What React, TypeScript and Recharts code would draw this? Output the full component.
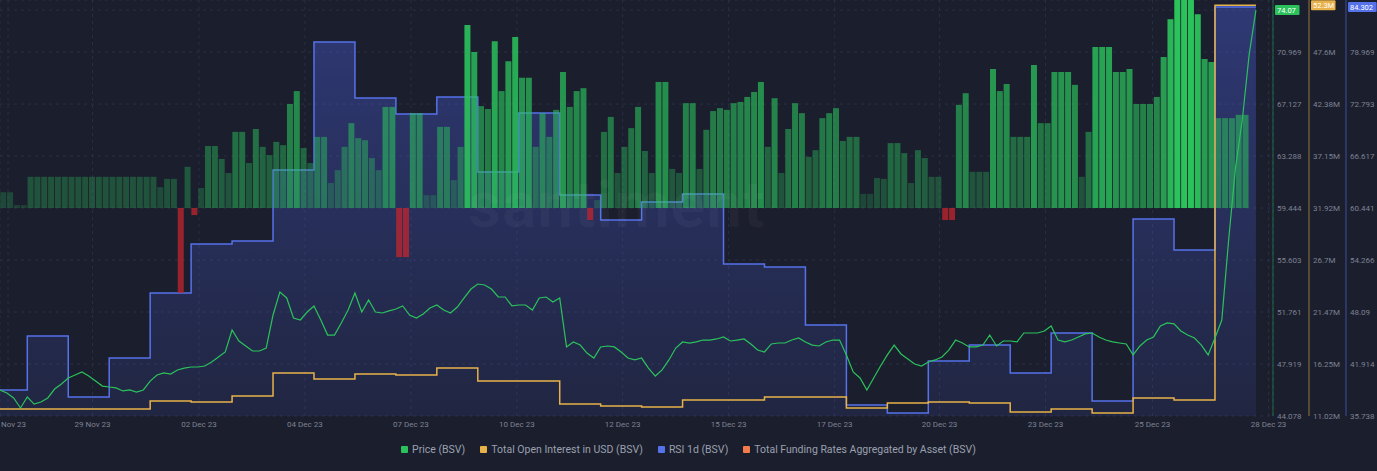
import React from 'react';
import {
  Area,
  Bar,
  CartesianGrid,
  Cell,
  ComposedChart,
  Line,
  XAxis,
  YAxis,
} from 'recharts';

const BG = '#1b1e2d';
const GREEN = '#2bc25c';
const YELLOW = '#e8b24a';
const BLUE = '#5672ea';
const ORANGE = '#f47c4c';
const RED = '#c4262d';
const TEXT = '#7d8292';

// axis ids are sorted by name when stacked on the right side
const PRICE_AXIS = '1-price';
const OI_AXIS = '2-oi';
const RSI_AXIS = '3-rsi';
const FUNDING_AXIS = '4-funding';

// time in hours from 28 Nov 23 00:00, one sample every 4h
const START_HOUR = -16;
const STEP_HOURS = 4;

const priceBsv = [
  46.0, 45.78, 45.41, 44.67, 45.48, 44.96, 45.11, 45.41, 46.07, 46.44,
  46.89, 47.11, 47.33, 47.03, 46.66, 46.29, 46.22, 46.15, 45.93, 46.0,
  45.85, 46.0, 46.66, 47.11, 47.26, 47.18, 47.48, 47.62, 47.7, 47.7,
  47.77, 48.07, 48.44, 48.81, 50.43, 49.62, 49.25, 48.88, 48.88, 49.1,
  51.54, 53.24, 52.8, 51.32, 51.17, 51.76, 52.21, 51.17, 50.06, 50.06,
  50.95, 51.91, 53.17, 51.76, 52.65, 51.76, 51.69, 51.84, 51.98, 52.21,
  51.54, 51.32, 51.61, 52.06, 52.28, 51.91, 51.69, 52.13, 52.8, 53.46,
  53.83, 53.76, 53.46, 52.87, 52.87, 52.21, 52.28, 52.28, 51.91, 52.8,
  52.87, 52.5, 52.8, 49.18, 49.55, 49.32, 48.73, 48.36, 49.18, 49.25,
  49.18, 48.81, 48.36, 48.22, 48.36, 47.62, 47.03, 47.48, 48.22, 49.1,
  49.55, 49.47, 49.55, 49.69, 49.69, 49.77, 49.92, 49.62, 49.69, 49.77,
  49.4, 48.95, 48.81, 49.4, 49.47, 49.47, 49.69, 49.84, 49.55, 49.32,
  49.25, 49.55, 49.69, 49.69, 48.59, 47.33, 46.89, 46.0, 46.89, 47.77,
  48.59, 49.32, 48.66, 48.29, 47.92, 47.77, 48.07, 48.22, 48.44, 48.95,
  49.69, 49.47, 49.18, 49.18, 49.32, 50.06, 49.25, 49.62, 49.62, 49.55,
  50.21, 50.21, 50.21, 50.36, 50.73, 49.69, 49.55, 49.69, 49.92, 50.14,
  50.21, 49.92, 49.69, 49.55, 49.47, 49.4, 48.59, 49.25, 49.69, 49.92,
  50.73, 50.95, 50.88, 50.36, 50.06, 49.84, 49.32, 48.59, 49.84, 51.17,
  57.08, 62.4, 65.95, 70.75, 74.07,
];

// funding rate (%) per 4h period
const fundingRates = [
  0.0038, 0.0038, 0.0007, 0.0007, 0.0075, 0.0075, 0.0075, 0.0075, 0.0075, 0.0075,
  0.0075, 0.0075, 0.0075, 0.0075, 0.0075, 0.0075, 0.0075, 0.0075, 0.0075, 0.0075,
  0.0075, 0.0075, 0.0075, 0.005, 0.007, 0.007, -0.0204, 0.0099, -0.0017, 0.0048,
  0.0149, 0.0149, 0.0118, 0.0084, 0.0183, 0.0183, 0.0108, 0.019, 0.0147, 0.0127,
  0.0159, 0.0151, 0.025, 0.0281, 0.0144, 0.0108, 0.0171, 0.0171, 0.006, 0.0091,
  0.0147, 0.0204, 0.0168, 0.0163, 0.012, 0.0091, 0.0243, 0.0243, -0.0118, -0.0118,
  0.0228, 0.0228, 0.0031, 0.0031, 0.0195, 0.0195, 0.0067, 0.0147, 0.044, 0.0375,
  0.0245, 0.0238, 0.0401, 0.0281, 0.0353, 0.0411, 0.0313, 0.0313, 0.0147, 0.0228,
  0.0171, 0.0236, 0.0327, 0.0243, 0.0281, 0.0288, -0.0029, 0.0019, 0.0183, 0.0219,
  0.0084, 0.0147, 0.0192, 0.0243, 0.0137, 0.0084, 0.0303, 0.0303, 0.0094, 0.0084,
  0.0252, 0.0252, 0.0094, 0.0188, 0.0233, 0.024, 0.0236, 0.0252, 0.0255, 0.0267,
  0.0279, 0.0303, 0.0147, 0.0264, 0.0084, 0.019, 0.0252, 0.0228, 0.0123, 0.0139,
  0.0216, 0.0228, 0.024, 0.0161, 0.0171, 0.0171, 0.0034, 0.0034, 0.0072, 0.007,
  0.0156, 0.0156, 0.0132, 0.006, 0.0139, 0.012, 0.0075, 0.0075, -0.0029, -0.0029,
  0.0248, 0.0276, 0.0087, 0.0087, 0.0087, 0.0334, 0.0281, 0.0298, 0.0171, 0.0171,
  0.0171, 0.0344, 0.0204, 0.0204, 0.0327, 0.0327, 0.0327, 0.0296, 0.0075, 0.0183,
  0.0387, 0.0387, 0.0387, 0.0327, 0.0327, 0.0334, 0.025, 0.025, 0.025, 0.0267,
  0.0363, 0.0454, 0.05, 0.05, 0.05, 0.0466, 0.0358, 0.0351, 0.0216, 0.0216,
  0.0216, 0.0224, 0.0224,
];
const FUNDING_MAX = 0.05;

// daily values, 27 Nov .. 27 Dec
const rsiDaily = [
  38.83, 45.24, 37.99, 42.63, 50.35, 56.17, 56.52, 64.96, 80.16, 73.51,
  71.61, 73.63, 64.72, 71.73, 61.99, 59.02, 61.16, 62.11, 53.79, 53.44,
  46.55, 37.04, 36.09, 42.27, 44.17, 40.85, 45.6, 37.52, 59.14, 55.46,
  84.3,
];
// millions of USD
const openInterestDaily = [
  11.72, 11.72, 11.72, 11.72, 12.53, 12.43, 13.03, 15.34, 14.74, 15.24,
  15.14, 15.84, 14.54, 14.54, 12.23, 12.02, 11.92, 12.63, 12.63, 12.93,
  12.93, 11.82, 12.33, 12.43, 12.33, 11.42, 11.72, 11.32, 12.83, 12.63,
  52.3,
];

const dateTicks = [-11.3, 38.2, 100.6, 162.7, 224.8, 286.9, 348.9, 411, 473.1, 534.6, 596.7, 659.4, 727.4];
const dateLabels = [
  '27 Nov 23', '29 Nov 23', '02 Dec 23', '04 Dec 23', '07 Dec 23', '10 Dec 23', '12 Dec 23',
  '15 Dec 23', '17 Dec 23', '20 Dec 23', '23 Dec 23', '25 Dec 23', '28 Dec 23',
];

const priceTicks = [44.078, 47.919, 51.761, 55.603, 59.444, 63.288, 67.127, 70.969, 74.07];
const oiTicks = [11.02, 16.25, 21.47, 26.7, 31.92, 37.15, 42.38, 47.6, 52.3];
const rsiTicks = [35.738, 41.914, 48.09, 54.266, 60.441, 66.617, 72.793, 78.969, 84.302];

const legendItems = [
  { label: 'Price (BSV)', color: GREEN },
  { label: 'Total Open Interest in USD (BSV)', color: YELLOW },
  { label: 'RSI 1d (BSV)', color: BLUE },
  { label: 'Total Funding Rates Aggregated by Asset (BSV)', color: ORANGE },
];

const rows = priceBsv.map((price, i) => {
  const t = START_HOUR + i * STEP_HOURS;
  const day = Math.min(Math.floor(t / 24) + 1, rsiDaily.length - 1);
  return {
    t,
    price,
    funding: i < fundingRates.length ? fundingRates[i] : null,
    rsi: rsiDaily[day],
    oi: openInterestDaily[day],
  };
});

function makeTick(color: string, last: number, suffix = '') {
  return function AxisTick(props: any) {
    const { x, y, payload } = props;
    const label = `${payload.value}${suffix}`;
    if (payload.value === last) {
      const w = label.length * 4.1 + 4;
      return (
        <g>
          <rect x={x - 2} y={y - 5} width={w} height={10} rx={1} fill={color} />
          <text x={x} y={y} dy={2.8} fontSize={7.5} fill="#ffffff" textAnchor="start">
            {label}
          </text>
        </g>
      );
    }
    return (
      <text x={x} y={y} dy={3} fontSize={8} fill={TEXT} textAnchor="start">
        {label}
      </text>
    );
  };
}

function fundingFill(v: number | null) {
  if (v == null) return { fill: GREEN, opacity: 0 };
  if (v < 0) return { fill: RED, opacity: 0.75 };
  return { fill: GREEN, opacity: 0.2 + 0.8 * Math.min(v / FUNDING_MAX, 1) };
}

export default function App() {
  return (
    <div
      style={{
        position: 'absolute',
        left: 0,
        top: 0,
        width: 1377,
        height: 471,
        background: BG,
        fontFamily: 'Roboto, sans-serif',
        overflow: 'hidden',
      }}
    >
      <ComposedChart
        width={1377}
        height={432}
        data={rows}
        margin={{ top: 0, right: 0, bottom: 0, left: 0 }}
        barCategoryGap="4%"
        barGap={0}
      >
        <defs>
          <linearGradient id="rsiFill" x1="0" y1="0" x2="0" y2="416" gradientUnits="userSpaceOnUse">
            <stop offset="0%" stopColor="#4a5ed8" stopOpacity={0.42} />
            <stop offset="100%" stopColor="#4a5ed8" stopOpacity={0.12} />
          </linearGradient>
        </defs>
        <CartesianGrid yAxisId={PRICE_AXIS} stroke="#2a2f44" strokeDasharray="3 4" />
        <XAxis
          type="number"
          dataKey="t"
          domain={[-16, 730]}
          allowDataOverflow
          ticks={dateTicks}
          interval={0}
          tickFormatter={(_v, i) => dateLabels[i]}
          axisLine={false}
          tickLine={false}
          tickSize={0}
          tickMargin={5}
          height={16}
          tick={{ fontSize: 8, fill: TEXT }}
        />
        <XAxis xAxisId="bars" type="number" dataKey="t" domain={[-18, 728]} allowDataOverflow hide />
        <YAxis
          yAxisId={PRICE_AXIS}
          orientation="right"
          domain={[44.078, 74.814]}
          allowDataOverflow
          ticks={priceTicks}
          interval={0}
          width={36}
          tickSize={0}
          tickMargin={4}
          tickLine={false}
          axisLine={{ stroke: GREEN, strokeOpacity: 0.45 }}
          tick={makeTick(GREEN, 74.07)}
        />
        <YAxis
          yAxisId={OI_AXIS}
          orientation="right"
          domain={[11.02, 52.83]}
          allowDataOverflow
          ticks={oiTicks}
          interval={0}
          width={37}
          tickSize={0}
          tickMargin={4}
          tickLine={false}
          axisLine={{ stroke: YELLOW, strokeOpacity: 0.6 }}
          tick={makeTick(YELLOW, 52.3, 'M')}
        />
        <YAxis
          yAxisId={RSI_AXIS}
          orientation="right"
          domain={[35.738, 85.144]}
          allowDataOverflow
          ticks={rsiTicks}
          interval={0}
          width={31}
          tickSize={0}
          tickMargin={4}
          tickLine={false}
          axisLine={{ stroke: BLUE, strokeOpacity: 0.6 }}
          tick={makeTick(BLUE, 84.302)}
        />
        <YAxis yAxisId={FUNDING_AXIS} domain={[-FUNDING_MAX, FUNDING_MAX]} allowDataOverflow hide />
        <Bar dataKey="funding" xAxisId="bars" yAxisId={FUNDING_AXIS} isAnimationActive={false}>
          {rows.map((r, i) => {
            const c = fundingFill(r.funding);
            return <Cell key={i} fill={c.fill} fillOpacity={c.opacity} />;
          })}
        </Bar>
        <Area
          type="stepAfter"
          dataKey="rsi"
          yAxisId={RSI_AXIS}
          stroke={BLUE}
          strokeWidth={1.5}
          fill="url(#rsiFill)"
          fillOpacity={1}
          dot={false}
          activeDot={false}
          isAnimationActive={false}
        />
        <Line
          type="stepAfter"
          dataKey="oi"
          yAxisId={OI_AXIS}
          stroke={YELLOW}
          strokeWidth={1.5}
          dot={false}
          activeDot={false}
          isAnimationActive={false}
        />
        <Line
          type="linear"
          dataKey="price"
          yAxisId={PRICE_AXIS}
          stroke={GREEN}
          strokeWidth={1.2}
          dot={false}
          activeDot={false}
          isAnimationActive={false}
        />
      </ComposedChart>
      <div
        style={{
          position: 'absolute',
          left: 468,
          top: 168,
          fontSize: 64,
          fontWeight: 600,
          color: 'rgba(255,255,255,0.035)',
          pointerEvents: 'none',
          letterSpacing: 1,
        }}
      >
        santiment
      </div>
      <div
        style={{
          position: 'absolute',
          left: 0,
          top: 443,
          width: 1377,
          display: 'flex',
          justifyContent: 'center',
          gap: 15,
          fontSize: 10.5,
          color: '#9aa0ad',
        }}
      >
        {legendItems.map((item) => (
          <div key={item.label} style={{ display: 'flex', alignItems: 'center', gap: 4 }}>
            <span style={{ width: 7, height: 7, borderRadius: 1, background: item.color }} />
            <span>{item.label}</span>
          </div>
        ))}
      </div>
    </div>
  );
}
